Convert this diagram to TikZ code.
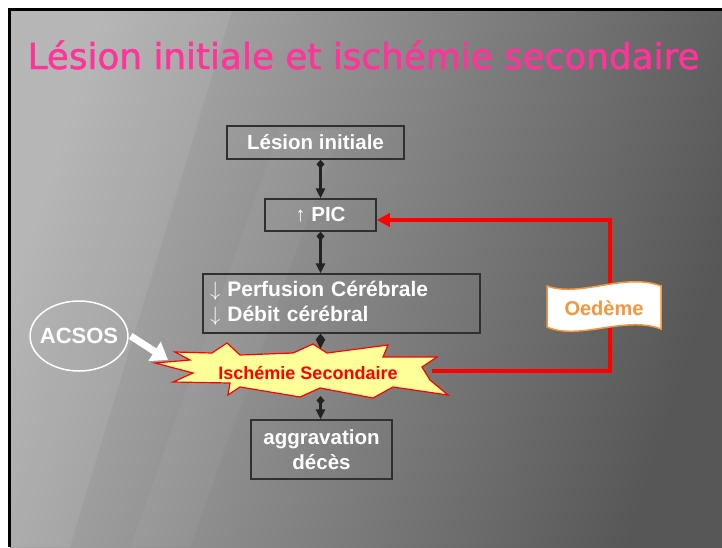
\documentclass[tikz,border=0pt]{standalone}
\usepackage{fontspec}
\setmainfont{Liberation Sans}
\newfontfamily\titlefont[FakeBold=1.3]{DejaVu Sans}
\usetikzlibrary{arrows.meta,shapes.geometric}

\definecolor{titlepink}{RGB}{255,51,153}
\definecolor{boxline}{RGB}{48,48,48}
\definecolor{flowline}{RGB}{34,34,34}
\definecolor{burstfill}{RGB}{255,255,153}
\definecolor{oedorange}{RGB}{245,150,60}

\newcommand{\boxfont}{\bfseries\fontsize{20.5}{25}\selectfont}

\tikzset{
  stepbox/.style={draw=boxline, line width=1.5pt, text=white, font=\boxfont,
    align=center, inner sep=0pt},
  flow/.style={draw=flowline, line width=2.5pt,
    {Diamond[length=9pt,width=8pt]}-{Triangle[length=10pt,width=9pt]}},
  redline/.style={draw=red, line width=4pt, -{Triangle[length=13pt,width=13pt]}},
  burst/.style={draw=red, line width=1.2pt, fill=burstfill, line join=miter},
}

\begin{document}
\begin{tikzpicture}[x=1pt,y=-1pt]
  \useasboundingbox (0,0) rectangle (722,547);

  % Slide background
  \begin{scope}
    \fill[white] (0,0) rectangle (722,547);
    \shade[shading=axis, top color=gray!62, middle color=black!52, bottom color=black!66,
      shading angle=72] (10,10) rectangle (722,547);
    \fill[white, opacity=0.08] (10,10) -- (232,10) -- (70,547) -- (10,547) -- cycle;
    \fill[white, opacity=0.04] (280,130) -- (340,130) -- (190,547) -- (130,547) -- cycle;
    \draw[black, line width=3pt] (9.5,547) -- (9.5,9.5) -- (722,9.5);
  \end{scope}

  % Title
  \node[text=titlepink, font=\titlefont\fontsize{35.8}{40}\selectfont, anchor=base]
    (title) at (363.5,69) {Lésion initiale et ischémie secondaire};

  % Boxes
  \node[stepbox, minimum width=177, minimum height=33] (lesion) at (315.5,142.5) {Lésion initiale};
  \node[stepbox, minimum width=111, minimum height=32] (pic) at (320.5,215) {↑ PIC};
  \node[stepbox, minimum width=277, minimum height=59, inner xsep=7, text width=263, align=left,
    font=\bfseries\fontsize{21}{25}\selectfont]
    (perf) at (341.5,303.5) {$\downarrow$ Perfusion Cérébrale\\$\downarrow$ Débit cérébral};
  \node[stepbox, minimum width=141, minimum height=59] (aggr) at (321.5,449.5) {aggravation\\décès};

  % Ischemie starburst
  \draw[burst] (155,363) -- (190,360) -- (175,352) -- (212,353) -- (227,343) -- (240,355)
    -- (293,353) -- (313,344) -- (327,353) -- (388,345) -- (383,357) -- (437,357)
    -- (422,367) -- (430,380) -- (448,395) -- (393,387) -- (373,398) -- (320,388)
    -- (300,397) -- (240,387) -- (228,395) -- (230,383) -- (173,382) -- (193,373) -- cycle;
  \node[text=red, font=\bfseries\fontsize{18}{20}\selectfont] (isch) at (308,373) {Ischémie Secondaire};
  \coordinate (burstN) at (320.5,349);
  \coordinate (burstS) at (320.5,396);
  \coordinate (burstE) at (432,371);

  % Flow arrows
  \draw[flow] (lesion.south -| pic.north) -- (pic.north);
  \draw[flow] (pic.south) -- (pic.south |- perf.north);
  \draw[flow] (perf.south -| burstN) -- (burstN);
  \draw[flow] (burstS) -- (burstS |- aggr.north);

  % Feedback through oedema
  \coordinate (redturn) at (610,220);
  \draw[redline] (burstE) -| (redturn) -- ([yshift=-5pt]pic.east);
  \draw[draw=oedorange, line width=1.5pt, fill=white]
    (547,286) .. controls (580,298) and (625,272) .. (661,286)
    -- (661,329) .. controls (625,315) and (580,341) .. (547,327) -- cycle;
  \node[text=oedorange, font=\bfseries\fontsize{20}{22}\selectfont] (oed) at (604,308) {Oedème};

  % ACSOS
  \node[ellipse, draw=white, line width=1.5pt, minimum height=70, inner xsep=-4.5pt, inner ysep=0pt,
    text=white, font=\bfseries\fontsize{22}{24}\selectfont] (acsos) at (79,336) {ACSOS};
  \coordinate (acsostip) at (168,360);
  \draw[white, line width=7pt, -{Triangle[length=16pt,width=22pt]}] ([xshift=2pt]acsos.east) -- (acsostip);
\end{tikzpicture}
\end{document}
